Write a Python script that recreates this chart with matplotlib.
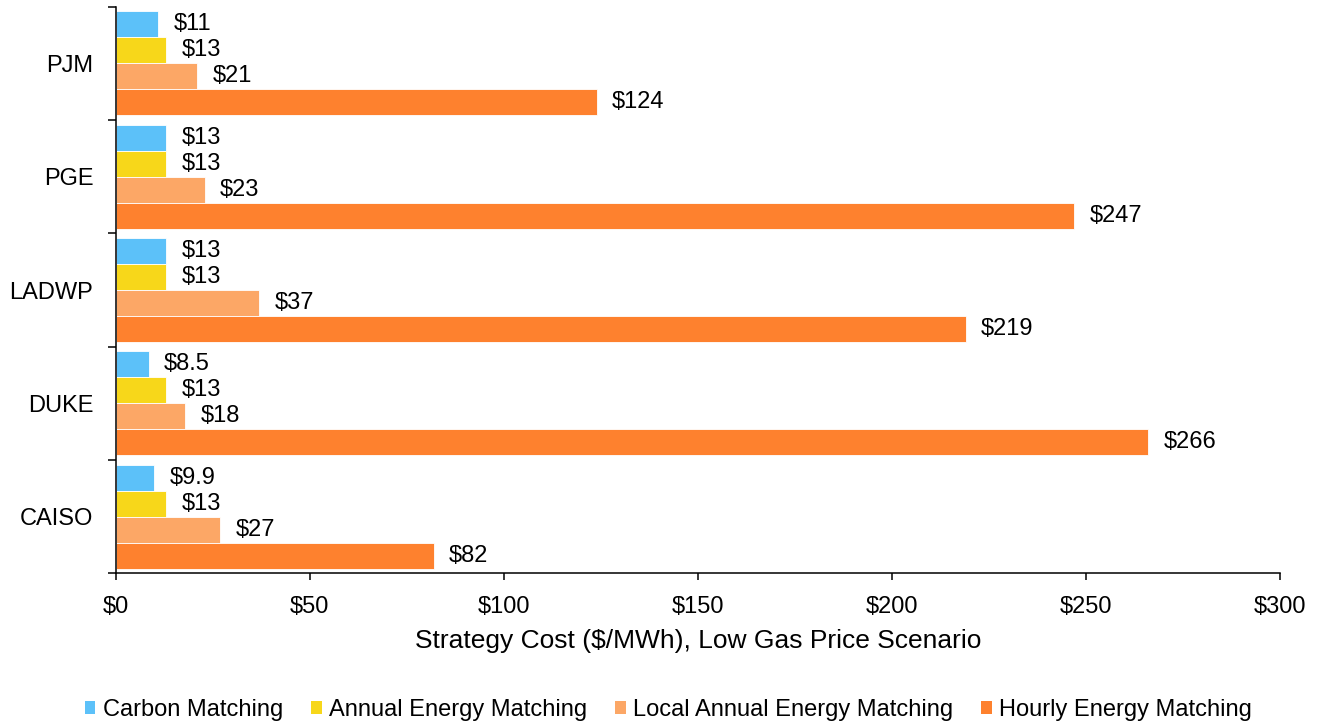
import matplotlib
matplotlib.use('Agg')
import matplotlib.pyplot as plt
import numpy as np
from matplotlib.patches import Patch

plt.rcParams['font.family'] = ['Liberation Sans', 'DejaVu Sans']

regions = ['PJM', 'PGE', 'LADWP', 'DUKE', 'CAISO']
series = ['Carbon Matching', 'Annual Energy Matching',
          'Local Annual Energy Matching', 'Hourly Energy Matching']
carbon = [11, 13, 13, 8.5, 9.9]
annual = [13, 13, 13, 13, 13]
local_annual = [21, 23, 37, 18, 27]
hourly = [124, 247, 219, 266, 82]
colors = ['#5CC1F9', '#F7D71A', '#FCA766', '#FE812E']
xticks = [0, 50, 100, 150, 200, 250, 300]

fig = plt.figure(figsize=(13.19, 7.26), dpi=100)
ax = fig.add_axes([0.0876, 0.2103, 0.8828, 0.7805])

y = np.arange(len(regions))
w = 0.23
for i, (vals, c) in enumerate(zip([carbon, annual, local_annual, hourly], colors)):
    pos = y + (i - 1.5) * w
    ax.barh(pos, vals, height=w, color=c, edgecolor='white', linewidth=0.6)
    for p, v in zip(pos, vals):
        lab = '$%g' % v
        ax.annotate(lab, (v, p), xytext=(11, 0), textcoords='offset points',
                    va='center', ha='left', fontsize=17)

ax.set_ylim(len(regions) - 0.5, -0.5)
ax.set_xlim(0, 300)
ax.set_yticks(np.arange(len(regions) + 1) - 0.5)
ax.set_yticklabels([])
ax.set_yticks(y, minor=True)
ax.set_yticklabels(regions, minor=True, fontsize=17)
ax.tick_params(axis='y', which='major', length=6, width=1.1, direction='out')
ax.tick_params(axis='y', which='minor', length=0, pad=16)
ax.set_xticks(xticks)
ax.set_xticklabels(['$%d' % t for t in xticks], fontsize=17)
ax.tick_params(axis='x', length=5, width=1.1, direction='out', pad=11)
ax.set_xlabel('Strategy Cost ($/MWh), Low Gas Price Scenario', fontsize=19, labelpad=8)

for s in ['top', 'right']:
    ax.spines[s].set_visible(False)
for s in ['left', 'bottom']:
    ax.spines[s].set_linewidth(1.1)

handles = [Patch(facecolor=c, label=s) for c, s in zip(colors, series)]
fig.legend(handles=handles, loc='center', bbox_to_anchor=(0.5068, 0.022), ncol=4,
           frameon=False, fontsize=17, handlelength=0.45, handleheight=0.45,
           handletextpad=0.3, columnspacing=1.2)

fig.savefig('out.png', dpi=100)
